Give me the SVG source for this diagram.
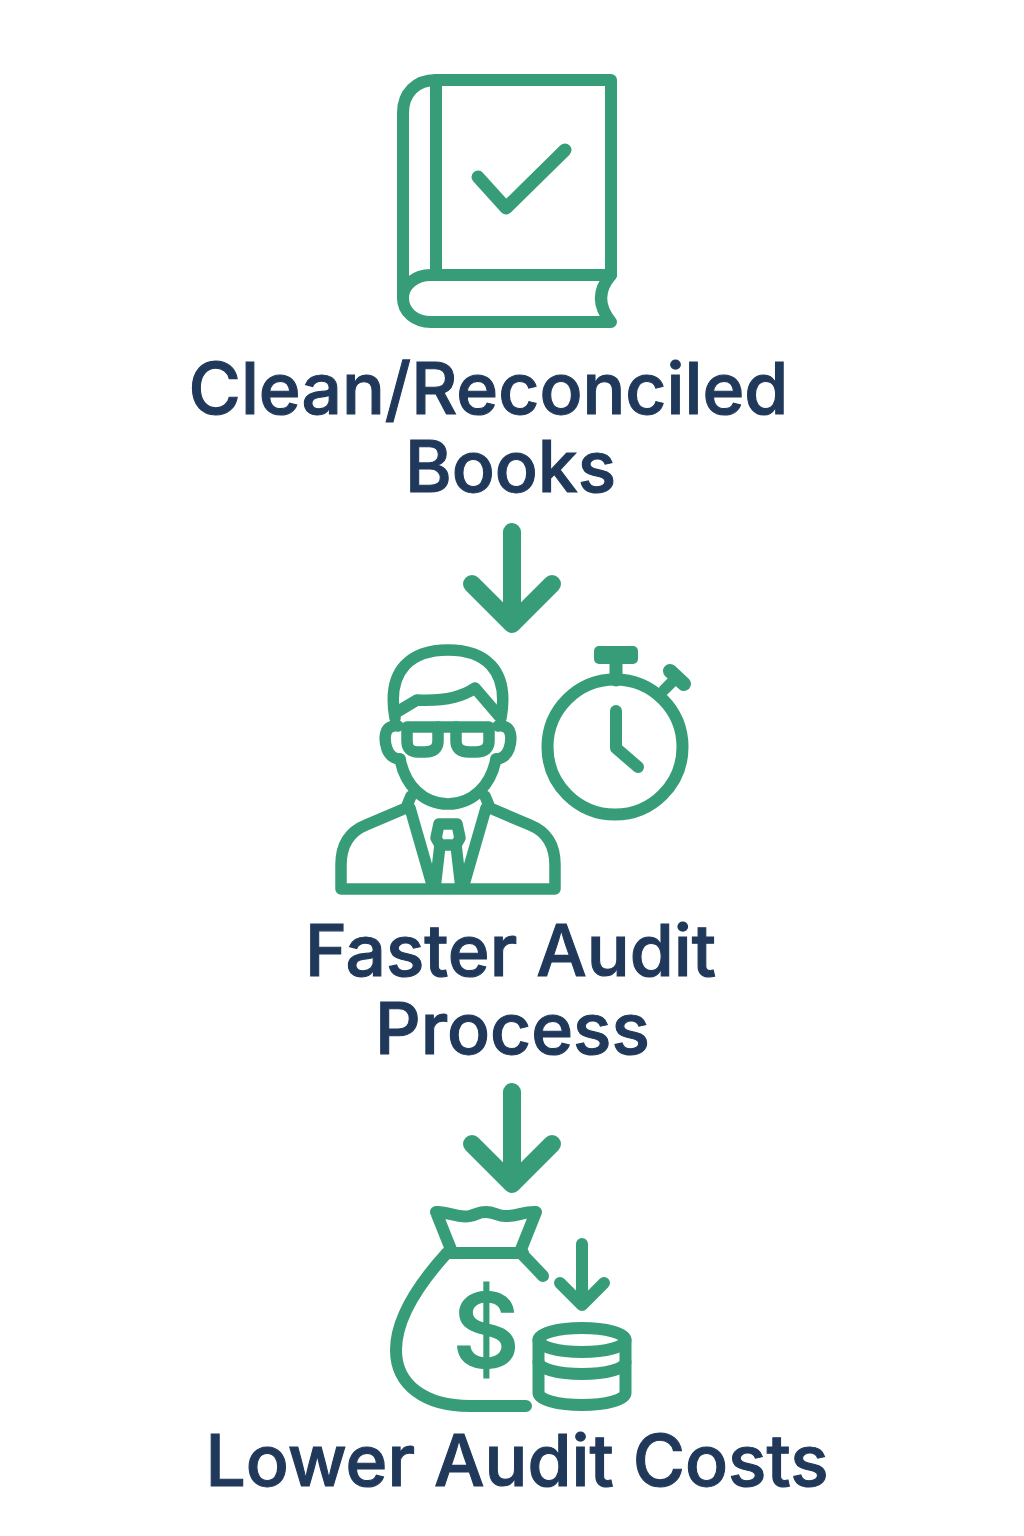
<svg xmlns="http://www.w3.org/2000/svg" width="1024" height="1536" viewBox="0 0 1024 1536">
<style>
.i{fill:none;stroke:#379D78;stroke-linecap:round;stroke-linejoin:round}
.t{font-family:Inter,"Liberation Sans",sans-serif;font-size:71.300px;font-weight:500;fill:#20395B;stroke:#20395B;stroke-width:1.100;text-anchor:middle}
</style>
<rect width="1024" height="1536" fill="#FFFFFF"/>
<g id="node-books">
<g class="i" stroke-width="12">
<path d="M611 80H436C416 80 403 93 403 113V298C403 312 415 322 431 322H611Q591 298 611 275V80Z"/>
<path d="M436 80V275"/>
<path d="M611 275H431C415 275 403 285 403 298"/>
<path d="M478 177L506 208L565 150" stroke-width="13"/>
</g>
<text class="t" x="488.500" y="414">Clean/Reconciled</text>
<text class="t" x="510.500" y="492">Books</text>
</g>
<g id="node-audit">
<g class="i" stroke-width="11.500">
<path d="M395 718C386 668 413 650 448 650C483 650 510 668 501 718"/>
<path d="M397 712L417 700Q455 702 475 688L499 716"/>
<path d="M398 726C383 724 384 740 387 749C390 757 396 759 400 759"/>
<path d="M498 726C513 724 512 740 509 749C506 757 500 759 496 759"/>
<path d="M400 759C405 785 423 804 448 804C473 804 491 785 496 759"/>
<path d="M407 727H438V741Q438 752 425 752H418Q407 752 407 741Z"/>
<path d="M456 727H489V741Q489 752 476 752H469Q456 752 456 741Z"/>
<path d="M438 727H456"/>
<path d="M411 796L406 808L366 825Q341 835 341 865V889H555V865Q555 835 530 825L490 808L485 796"/>
<path d="M410 808L433 888M486 808L463 888"/>
<path d="M439 824H457L460 838L456 845H440L436 838Z"/>
<path d="M440 845L435 888M456 845L461 888"/>
<circle cx="615" cy="747" r="67.500" stroke-width="12"/>
<path d="M616 711V748L638 767" stroke-width="12"/>
<rect x="594" y="646" width="44" height="18" rx="5" fill="#379D78" stroke="none"/>
<path d="M616 660V680" stroke-width="13"/>
<path d="M664 690L677 677" stroke-width="11"/>
<path d="M670 671L684 684" stroke-width="14"/>
</g>
<text class="t" x="510.500" y="976">Faster Audit</text>
<text class="t" x="512.500" y="1054">Process</text>
</g>
<g id="node-costs">
<g class="i" stroke-width="12">
<path d="M436 1212C448 1211 458 1219 470 1216C478 1214 478 1212 486 1212C494 1212 498 1216 505 1216C515 1217 525 1211 536 1212L520 1252M436 1212L452 1252"/>
<path d="M447 1253H523"/>
<path d="M446 1254C418 1285 396 1320 396 1350C396 1385 425 1406 470 1406H526"/>
<path d="M522 1254L543 1276"/>
<path d="M582 1244V1305M560 1283L582 1305L604 1283"/>
<ellipse cx="582" cy="1340" rx="43.500" ry="12"/>
<path d="M538.500 1340V1393A43.500 12 0 0 0 625.500 1393V1340"/>
<path d="M538.500 1362A43.500 12 0 0 0 625.500 1362"/>
</g>
<text x="486" y="1368" font-family="Inter,'Liberation Sans',sans-serif" font-size="104" font-weight="600" fill="#379D78" text-anchor="middle">$</text>
<text class="t" x="517" y="1486">Lower Audit Costs</text>
</g>
<g id="connectors" class="i" stroke-width="18">
<path d="M512 532V622M472 584L512 624L552 584"/>
<path d="M512 1092V1182M472 1144L512 1184L552 1144"/>
</g>
</svg>
